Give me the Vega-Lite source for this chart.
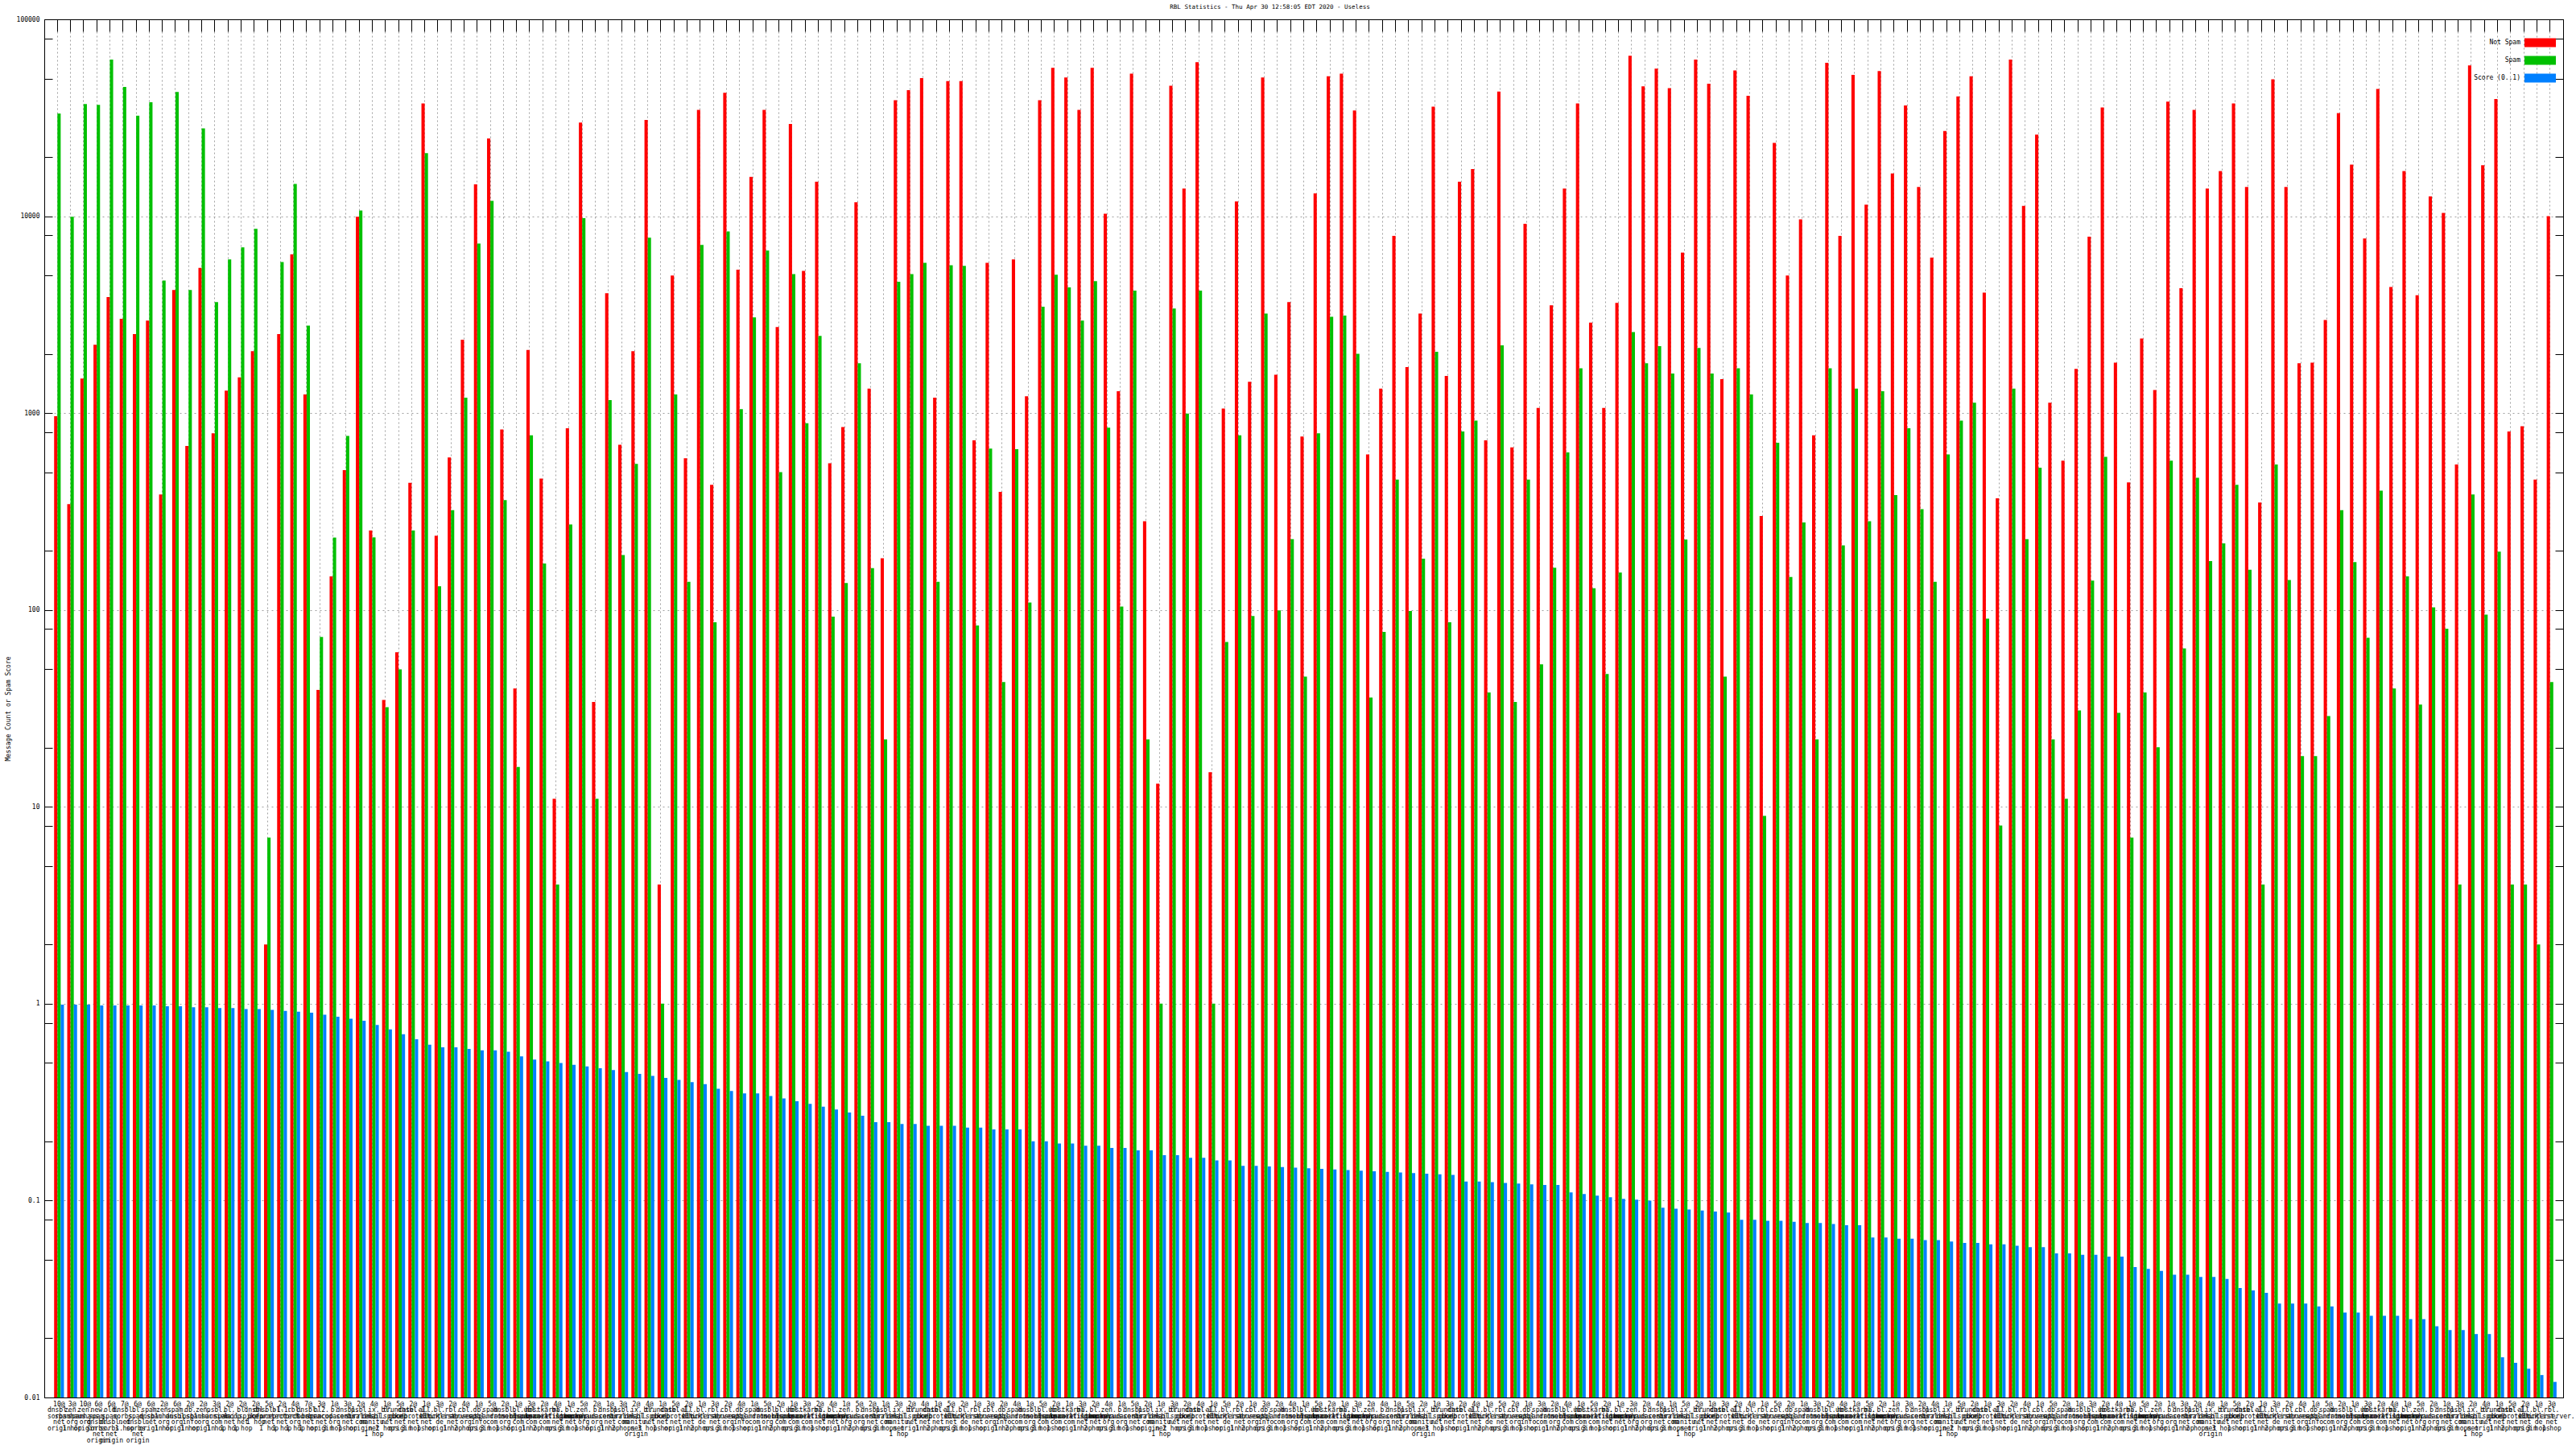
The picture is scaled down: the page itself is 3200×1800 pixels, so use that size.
{
"$schema":"https://vega.github.io/schema/vega-lite/v6.json",
"autosize":{"type":"none"},
"padding":{"left":55,"top":24,"right":16,"bottom":64},
"width":3129,"height":1712,
"background":"white",
"title":{"text":"RBL Statistics - Thu Apr 30 12:58:05 EDT 2020 - Useless","anchor":"middle","dx":-42,"offset":8,"font":"DejaVu Sans Mono","fontSize":7.5,"fontWeight":"normal","color":"black"},
"config":{"view":{"stroke":"black","strokeWidth":1},"axis":{"domainColor":"black","domainWidth":1,"tickColor":"black","tickWidth":1,"labelColor":"black","titleColor":"black"}},
"datasets":{
"labels":[
{"g":1,"label":"1|10@|dnsbl.|sorbs.|net|origin"},{"g":2,"label":"2|3@|zen.|spamhaus.|org|1 hop"},{"g":3,"label":"3|10@|zen.|spamhaus.|org|origin"},{"g":4,"label":"4|6@|new.|spam.|dnsbl.|sorbs.|net|origin"},{"g":5,"label":"5|6@|old.|spam.|dnsbl.|sorbs.|net|origin"},{"g":6,"label":"6|7@|dnsbl.|sorbs.|net|1 hop"},{"g":7,"label":"7|6@|bl.|spam.|dnsbl.|sorbs.|net|origin"},{"g":8,"label":"8|6@|spam.|dnsbl.|net|origin"},{"g":9,"label":"9|2@|zen.|spamhaus.|org|1 hop"},{"g":10,"label":"10|6@|spam.|dnsbl.|org|origin"},
{"g":11,"label":"11|2@|db.|ipsbl.|info|1 hop"},{"g":12,"label":"12|2@|zen.|spamhaus.|org|origin"},{"g":13,"label":"13|3@|psbl.|surriel.|com|1 hop"},{"g":14,"label":"14|2@|bl.|spamcop.|net|1 hop"},{"g":15,"label":"15|2@|bl.|mailspike.|net|1 hop"},{"g":16,"label":"16|2@|dnsbl.|info|1 hop"},{"g":17,"label":"17|5@|dnsbl-1.|uceprotect.|net|1 hop"},{"g":18,"label":"18|2@|bl-1.|uceprotect.|net|1 hop"},{"g":19,"label":"19|4@|rbl.|ordb.|org|1 hop"},{"g":20,"label":"20|7@|dnsbl.|sorbs.|net|1 hop"},
{"g":21,"label":"21|3@|bl2.|spamcop.|net|origin"},{"g":22,"label":"22|1@|b.|barracudacentral.|org|3 hops"},{"g":23,"label":"23|3@|dnsbl.|sorbs.|net|1 hop"},{"g":24,"label":"24|2@|psbl.|surriel.|com|origin"},{"g":25,"label":"25|4@|ix.|dnsbl.|manitu.|net|1 hop"},{"g":26,"label":"26|1@|bl.|mailspike.|net|2 hops"},{"g":27,"label":"27|5@|truncate.|gbudb.|net|origin"},{"g":28,"label":"28|2@|dnsbl-1.|uceprotect.|net|3 hops"},{"g":29,"label":"29|1@|all.|s5h.|net|1 hop"},{"g":30,"label":"30|3@|bl.|blocklist.|de|origin"},
{"g":31,"label":"31|2@|rbl.|interserver.|net|1 hop"},{"g":32,"label":"32|4@|cbl.|abuseat.|org|2 hops"},{"g":33,"label":"33|1@|db.|wpbl.|info|origin"},{"g":34,"label":"34|5@|spam.|spamrats.|com|3 hops"},{"g":35,"label":"35|2@|dnsbl.|dronebl.|org|1 hop"},{"g":36,"label":"36|1@|bl.|nordspam.|com|origin"},{"g":37,"label":"37|3@|ubl.|unsubscore.|com|1 hop"},{"g":38,"label":"38|2@|hostkarma.|junkemailfilter.|com|2 hops"},{"g":39,"label":"39|4@|bl.|spameatingmonkey.|net|origin"},{"g":40,"label":"40|1@|bl.|spamcop.|net|3 hops"},
{"g":41,"label":"41|5@|zen.|spamhaus.|org|1 hop"},{"g":42,"label":"42|2@|b.|barracudacentral.|org|origin"},{"g":43,"label":"43|1@|dnsbl.|sorbs.|net|1 hop"},{"g":44,"label":"44|3@|psbl.|surriel.|com|2 hops"},{"g":45,"label":"45|2@|ix.|dnsbl.|manitu.|net|origin"},{"g":46,"label":"46|4@|bl.|mailspike.|net|3 hops"},{"g":47,"label":"47|1@|truncate.|gbudb.|net|1 hop"},{"g":48,"label":"48|5@|dnsbl-1.|uceprotect.|net|origin"},{"g":49,"label":"49|2@|all.|s5h.|net|1 hop"},{"g":50,"label":"50|1@|bl.|blocklist.|de|2 hops"},
{"g":51,"label":"51|3@|rbl.|interserver.|net|origin"},{"g":52,"label":"52|2@|cbl.|abuseat.|org|3 hops"},{"g":53,"label":"53|4@|db.|wpbl.|info|1 hop"},{"g":54,"label":"54|1@|spam.|spamrats.|com|origin"},{"g":55,"label":"55|5@|dnsbl.|dronebl.|org|1 hop"},{"g":56,"label":"56|2@|bl.|nordspam.|com|2 hops"},{"g":57,"label":"57|1@|ubl.|unsubscore.|com|origin"},{"g":58,"label":"58|3@|hostkarma.|junkemailfilter.|com|3 hops"},{"g":59,"label":"59|2@|bl.|spameatingmonkey.|net|1 hop"},{"g":60,"label":"60|4@|bl.|spamcop.|net|origin"},
{"g":61,"label":"61|1@|zen.|spamhaus.|org|1 hop"},{"g":62,"label":"62|5@|b.|barracudacentral.|org|2 hops"},{"g":63,"label":"63|2@|dnsbl.|sorbs.|net|origin"},{"g":64,"label":"64|1@|psbl.|surriel.|com|3 hops"},{"g":65,"label":"65|3@|ix.|dnsbl.|manitu.|net|1 hop"},{"g":66,"label":"66|2@|bl.|mailspike.|net|origin"},{"g":67,"label":"67|4@|truncate.|gbudb.|net|1 hop"},{"g":68,"label":"68|1@|dnsbl-1.|uceprotect.|net|2 hops"},{"g":69,"label":"69|5@|all.|s5h.|net|origin"},{"g":70,"label":"70|2@|bl.|blocklist.|de|3 hops"},
{"g":71,"label":"71|1@|rbl.|interserver.|net|1 hop"},{"g":72,"label":"72|3@|cbl.|abuseat.|org|origin"},{"g":73,"label":"73|2@|db.|wpbl.|info|1 hop"},{"g":74,"label":"74|4@|spam.|spamrats.|com|2 hops"},{"g":75,"label":"75|1@|dnsbl.|dronebl.|org|origin"},{"g":76,"label":"76|5@|bl.|nordspam.|com|3 hops"},{"g":77,"label":"77|2@|ubl.|unsubscore.|com|1 hop"},{"g":78,"label":"78|1@|hostkarma.|junkemailfilter.|com|origin"},{"g":79,"label":"79|3@|bl.|spameatingmonkey.|net|1 hop"},{"g":80,"label":"80|2@|bl.|spamcop.|net|2 hops"},
{"g":81,"label":"81|4@|zen.|spamhaus.|org|origin"},{"g":82,"label":"82|1@|b.|barracudacentral.|org|3 hops"},{"g":83,"label":"83|5@|dnsbl.|sorbs.|net|1 hop"},{"g":84,"label":"84|2@|psbl.|surriel.|com|origin"},{"g":85,"label":"85|1@|ix.|dnsbl.|manitu.|net|1 hop"},{"g":86,"label":"86|3@|bl.|mailspike.|net|2 hops"},{"g":87,"label":"87|2@|truncate.|gbudb.|net|origin"},{"g":88,"label":"88|4@|dnsbl-1.|uceprotect.|net|3 hops"},{"g":89,"label":"89|1@|all.|s5h.|net|1 hop"},{"g":90,"label":"90|5@|bl.|blocklist.|de|origin"},
{"g":91,"label":"91|2@|rbl.|interserver.|net|1 hop"},{"g":92,"label":"92|1@|cbl.|abuseat.|org|2 hops"},{"g":93,"label":"93|3@|db.|wpbl.|info|origin"},{"g":94,"label":"94|2@|spam.|spamrats.|com|3 hops"},{"g":95,"label":"95|4@|dnsbl.|dronebl.|org|1 hop"},{"g":96,"label":"96|1@|bl.|nordspam.|com|origin"},{"g":97,"label":"97|5@|ubl.|unsubscore.|com|1 hop"},{"g":98,"label":"98|2@|hostkarma.|junkemailfilter.|com|2 hops"},{"g":99,"label":"99|1@|bl.|spameatingmonkey.|net|origin"},{"g":100,"label":"100|3@|bl.|spamcop.|net|3 hops"},
{"g":101,"label":"101|2@|zen.|spamhaus.|org|1 hop"},{"g":102,"label":"102|4@|b.|barracudacentral.|org|origin"},{"g":103,"label":"103|1@|dnsbl.|sorbs.|net|1 hop"},{"g":104,"label":"104|5@|psbl.|surriel.|com|2 hops"},{"g":105,"label":"105|2@|ix.|dnsbl.|manitu.|net|origin"},{"g":106,"label":"106|1@|bl.|mailspike.|net|3 hops"},{"g":107,"label":"107|3@|truncate.|gbudb.|net|1 hop"},{"g":108,"label":"108|2@|dnsbl-1.|uceprotect.|net|origin"},{"g":109,"label":"109|4@|all.|s5h.|net|1 hop"},{"g":110,"label":"110|1@|bl.|blocklist.|de|2 hops"},
{"g":111,"label":"111|5@|rbl.|interserver.|net|origin"},{"g":112,"label":"112|2@|cbl.|abuseat.|org|3 hops"},{"g":113,"label":"113|1@|db.|wpbl.|info|1 hop"},{"g":114,"label":"114|3@|spam.|spamrats.|com|origin"},{"g":115,"label":"115|2@|dnsbl.|dronebl.|org|1 hop"},{"g":116,"label":"116|4@|bl.|nordspam.|com|2 hops"},{"g":117,"label":"117|1@|ubl.|unsubscore.|com|origin"},{"g":118,"label":"118|5@|hostkarma.|junkemailfilter.|com|3 hops"},{"g":119,"label":"119|2@|bl.|spameatingmonkey.|net|1 hop"},{"g":120,"label":"120|1@|bl.|spamcop.|net|origin"},
{"g":121,"label":"121|3@|zen.|spamhaus.|org|1 hop"},{"g":122,"label":"122|2@|b.|barracudacentral.|org|2 hops"},{"g":123,"label":"123|4@|dnsbl.|sorbs.|net|origin"},{"g":124,"label":"124|1@|psbl.|surriel.|com|3 hops"},{"g":125,"label":"125|5@|ix.|dnsbl.|manitu.|net|1 hop"},{"g":126,"label":"126|2@|bl.|mailspike.|net|origin"},{"g":127,"label":"127|1@|truncate.|gbudb.|net|1 hop"},{"g":128,"label":"128|3@|dnsbl-1.|uceprotect.|net|2 hops"},{"g":129,"label":"129|2@|all.|s5h.|net|origin"},{"g":130,"label":"130|4@|bl.|blocklist.|de|3 hops"},
{"g":131,"label":"131|1@|rbl.|interserver.|net|1 hop"},{"g":132,"label":"132|5@|cbl.|abuseat.|org|origin"},{"g":133,"label":"133|2@|db.|wpbl.|info|1 hop"},{"g":134,"label":"134|1@|spam.|spamrats.|com|2 hops"},{"g":135,"label":"135|3@|dnsbl.|dronebl.|org|origin"},{"g":136,"label":"136|2@|bl.|nordspam.|com|3 hops"},{"g":137,"label":"137|4@|ubl.|unsubscore.|com|1 hop"},{"g":138,"label":"138|1@|hostkarma.|junkemailfilter.|com|origin"},{"g":139,"label":"139|5@|bl.|spameatingmonkey.|net|1 hop"},{"g":140,"label":"140|2@|bl.|spamcop.|net|2 hops"},
{"g":141,"label":"141|1@|zen.|spamhaus.|org|origin"},{"g":142,"label":"142|3@|b.|barracudacentral.|org|3 hops"},{"g":143,"label":"143|2@|dnsbl.|sorbs.|net|1 hop"},{"g":144,"label":"144|4@|psbl.|surriel.|com|origin"},{"g":145,"label":"145|1@|ix.|dnsbl.|manitu.|net|1 hop"},{"g":146,"label":"146|5@|bl.|mailspike.|net|2 hops"},{"g":147,"label":"147|2@|truncate.|gbudb.|net|origin"},{"g":148,"label":"148|1@|dnsbl-1.|uceprotect.|net|3 hops"},{"g":149,"label":"149|3@|all.|s5h.|net|1 hop"},{"g":150,"label":"150|2@|bl.|blocklist.|de|origin"},
{"g":151,"label":"151|4@|rbl.|interserver.|net|1 hop"},{"g":152,"label":"152|1@|cbl.|abuseat.|org|2 hops"},{"g":153,"label":"153|5@|db.|wpbl.|info|origin"},{"g":154,"label":"154|2@|spam.|spamrats.|com|3 hops"},{"g":155,"label":"155|1@|dnsbl.|dronebl.|org|1 hop"},{"g":156,"label":"156|3@|bl.|nordspam.|com|origin"},{"g":157,"label":"157|2@|ubl.|unsubscore.|com|1 hop"},{"g":158,"label":"158|4@|hostkarma.|junkemailfilter.|com|2 hops"},{"g":159,"label":"159|1@|bl.|spameatingmonkey.|net|origin"},{"g":160,"label":"160|5@|bl.|spamcop.|net|3 hops"},
{"g":161,"label":"161|2@|zen.|spamhaus.|org|1 hop"},{"g":162,"label":"162|1@|b.|barracudacentral.|org|origin"},{"g":163,"label":"163|3@|dnsbl.|sorbs.|net|1 hop"},{"g":164,"label":"164|2@|psbl.|surriel.|com|2 hops"},{"g":165,"label":"165|4@|ix.|dnsbl.|manitu.|net|origin"},{"g":166,"label":"166|1@|bl.|mailspike.|net|3 hops"},{"g":167,"label":"167|5@|truncate.|gbudb.|net|1 hop"},{"g":168,"label":"168|2@|dnsbl-1.|uceprotect.|net|origin"},{"g":169,"label":"169|1@|all.|s5h.|net|1 hop"},{"g":170,"label":"170|3@|bl.|blocklist.|de|2 hops"},
{"g":171,"label":"171|2@|rbl.|interserver.|net|origin"},{"g":172,"label":"172|4@|cbl.|abuseat.|org|3 hops"},{"g":173,"label":"173|1@|db.|wpbl.|info|1 hop"},{"g":174,"label":"174|5@|spam.|spamrats.|com|origin"},{"g":175,"label":"175|2@|dnsbl.|dronebl.|org|1 hop"},{"g":176,"label":"176|1@|bl.|nordspam.|com|2 hops"},{"g":177,"label":"177|3@|ubl.|unsubscore.|com|origin"},{"g":178,"label":"178|2@|hostkarma.|junkemailfilter.|com|3 hops"},{"g":179,"label":"179|4@|bl.|spameatingmonkey.|net|1 hop"},{"g":180,"label":"180|1@|bl.|spamcop.|net|origin"},
{"g":181,"label":"181|5@|zen.|spamhaus.|org|1 hop"},{"g":182,"label":"182|2@|b.|barracudacentral.|org|2 hops"},{"g":183,"label":"183|1@|dnsbl.|sorbs.|net|origin"},{"g":184,"label":"184|3@|psbl.|surriel.|com|3 hops"},{"g":185,"label":"185|2@|ix.|dnsbl.|manitu.|net|1 hop"},{"g":186,"label":"186|4@|bl.|mailspike.|net|origin"},{"g":187,"label":"187|1@|truncate.|gbudb.|net|1 hop"},{"g":188,"label":"188|5@|dnsbl-1.|uceprotect.|net|2 hops"},{"g":189,"label":"189|2@|all.|s5h.|net|origin"},{"g":190,"label":"190|1@|bl.|blocklist.|de|3 hops"},
{"g":191,"label":"191|3@|rbl.|interserver.|net|1 hop"}
],
"bars":[
{"g":1,"s":"n","v":965},{"g":1,"s":"p","v":33200},{"g":1,"s":"c","v":0.99},
{"g":2,"s":"n","v":345},{"g":2,"s":"p","v":9930},{"g":2,"s":"c","v":0.99},
{"g":3,"s":"n","v":1497},{"g":3,"s":"p","v":37100},{"g":3,"s":"c","v":0.99},
{"g":4,"s":"n","v":2222},{"g":4,"s":"p","v":36800},{"g":4,"s":"c","v":0.98},
{"g":5,"s":"n","v":3884},{"g":5,"s":"p","v":62400},{"g":5,"s":"c","v":0.98},
{"g":6,"s":"n","v":3015},{"g":6,"s":"p","v":45300},{"g":6,"s":"c","v":0.98},
{"g":7,"s":"n","v":2522},{"g":7,"s":"p","v":32400},{"g":7,"s":"c","v":0.98},
{"g":8,"s":"n","v":2951},{"g":8,"s":"p","v":37900},{"g":8,"s":"c","v":0.98},
{"g":9,"s":"n","v":386},{"g":9,"s":"p","v":4715},{"g":9,"s":"c","v":0.97},
{"g":10,"s":"n","v":4217},{"g":10,"s":"p","v":42800},{"g":10,"s":"c","v":0.97},
{"g":11,"s":"n","v":680},{"g":11,"s":"p","v":4217},{"g":11,"s":"c","v":0.96},
{"g":12,"s":"n","v":5470},{"g":12,"s":"p","v":27900},{"g":12,"s":"c","v":0.96},
{"g":13,"s":"n","v":789},{"g":13,"s":"p","v":3660},{"g":13,"s":"c","v":0.95},
{"g":14,"s":"n","v":1300},{"g":14,"s":"p","v":6030},{"g":14,"s":"c","v":0.95},
{"g":15,"s":"n","v":1520},{"g":15,"s":"p","v":6950},{"g":15,"s":"c","v":0.94},
{"g":16,"s":"n","v":2063},{"g":16,"s":"p","v":8620},{"g":16,"s":"c","v":0.94},
{"g":17,"s":"n","v":2.0},{"g":17,"s":"p","v":6.98},{"g":17,"s":"c","v":0.93},
{"g":18,"s":"n","v":2522},{"g":18,"s":"p","v":5850},{"g":18,"s":"c","v":0.92},
{"g":19,"s":"n","v":6400},{"g":19,"s":"p","v":14600},{"g":19,"s":"c","v":0.91},
{"g":20,"s":"n","v":1244},{"g":20,"s":"p","v":2780},{"g":20,"s":"c","v":0.90},
{"g":21,"s":"n","v":39.3},{"g":21,"s":"p","v":72.9},{"g":21,"s":"c","v":0.88},
{"g":22,"s":"n","v":148},{"g":22,"s":"p","v":233},{"g":22,"s":"c","v":0.86},
{"g":23,"s":"n","v":513},{"g":23,"s":"p","v":766},{"g":23,"s":"c","v":0.84},
{"g":24,"s":"n","v":9930},{"g":24,"s":"p","v":10700},{"g":24,"s":"c","v":0.82},
{"g":25,"s":"n","v":253},{"g":25,"s":"p","v":234},{"g":25,"s":"c","v":0.78},
{"g":26,"s":"n","v":34.9},{"g":26,"s":"p","v":32.1},{"g":26,"s":"c","v":0.74},
{"g":27,"s":"n","v":61},{"g":27,"s":"p","v":49.9},{"g":27,"s":"c","v":0.70},
{"g":28,"s":"n","v":442},{"g":28,"s":"p","v":253},{"g":28,"s":"c","v":0.66},
{"g":29,"s":"n","v":37400},{"g":29,"s":"p","v":20900},{"g":29,"s":"c","v":0.62},
{"g":30,"s":"n","v":238},{"g":30,"s":"p","v":132},{"g":30,"s":"c","v":0.60},
{"g":31,"s":"n","v":595},{"g":31,"s":"p","v":321},{"g":31,"s":"c","v":0.60},
{"g":32,"s":"n","v":2360},{"g":32,"s":"p","v":1198},{"g":32,"s":"c","v":0.59},
{"g":33,"s":"n","v":14500},{"g":33,"s":"p","v":7260},{"g":33,"s":"c","v":0.58},
{"g":34,"s":"n","v":24800},{"g":34,"s":"p","v":11960},{"g":34,"s":"c","v":0.58},
{"g":35,"s":"n","v":826},{"g":35,"s":"p","v":361},{"g":35,"s":"c","v":0.57},
{"g":36,"s":"n","v":39.9},{"g":36,"s":"p","v":15.96},{"g":36,"s":"c","v":0.54},
{"g":37,"s":"n","v":2094},{"g":37,"s":"p","v":772},{"g":37,"s":"c","v":0.52},
{"g":38,"s":"n","v":465},{"g":38,"s":"p","v":172},{"g":38,"s":"c","v":0.51},
{"g":39,"s":"n","v":11.0},{"g":39,"s":"p","v":4.03},{"g":39,"s":"c","v":0.50},
{"g":40,"s":"n","v":837},{"g":40,"s":"p","v":272},{"g":40,"s":"c","v":0.49},
{"g":41,"s":"n","v":29900},{"g":41,"s":"p","v":9780},{"g":41,"s":"c","v":0.48},
{"g":42,"s":"n","v":34.1},{"g":42,"s":"p","v":11.0},{"g":42,"s":"c","v":0.47},
{"g":43,"s":"n","v":4060},{"g":43,"s":"p","v":1163},{"g":43,"s":"c","v":0.46},
{"g":44,"s":"n","v":690},{"g":44,"s":"p","v":190},{"g":44,"s":"c","v":0.45},
{"g":45,"s":"n","v":2063},{"g":45,"s":"p","v":552},{"g":45,"s":"c","v":0.44},
{"g":46,"s":"n","v":30800},{"g":46,"s":"p","v":7770},{"g":46,"s":"c","v":0.43},
{"g":47,"s":"n","v":4.03},{"g":47,"s":"p","v":1.0},{"g":47,"s":"c","v":0.42},
{"g":48,"s":"n","v":5000},{"g":48,"s":"p","v":1244},{"g":48,"s":"c","v":0.41},
{"g":49,"s":"n","v":590},{"g":49,"s":"p","v":139},{"g":49,"s":"c","v":0.40},
{"g":50,"s":"n","v":34700},{"g":50,"s":"p","v":7150},{"g":50,"s":"c","v":0.39},
{"g":51,"s":"n","v":432},{"g":51,"s":"p","v":86.5},{"g":51,"s":"c","v":0.37},
{"g":52,"s":"n","v":42400},{"g":52,"s":"p","v":8360},{"g":52,"s":"c","v":0.36},
{"g":53,"s":"n","v":5350},{"g":53,"s":"p","v":1047},{"g":53,"s":"c","v":0.35},
{"g":54,"s":"n","v":15850},{"g":54,"s":"p","v":3060},{"g":54,"s":"c","v":0.35},
{"g":55,"s":"n","v":34700},{"g":55,"s":"p","v":6690},{"g":55,"s":"c","v":0.34},
{"g":56,"s":"n","v":2738},{"g":56,"s":"p","v":501},{"g":56,"s":"c","v":0.33},
{"g":57,"s":"n","v":29400},{"g":57,"s":"p","v":5080},{"g":57,"s":"c","v":0.32},
{"g":58,"s":"n","v":5270},{"g":58,"s":"p","v":889},{"g":58,"s":"c","v":0.31},
{"g":59,"s":"n","v":14950},{"g":59,"s":"p","v":2466},{"g":59,"s":"c","v":0.30},
{"g":60,"s":"n","v":556},{"g":60,"s":"p","v":92.5},{"g":60,"s":"c","v":0.29},
{"g":61,"s":"n","v":850},{"g":61,"s":"p","v":137},{"g":61,"s":"c","v":0.28},
{"g":62,"s":"n","v":11780},{"g":62,"s":"p","v":1791},{"g":62,"s":"c","v":0.27},
{"g":63,"s":"n","v":1330},{"g":63,"s":"p","v":163},{"g":63,"s":"c","v":0.25},
{"g":64,"s":"n","v":183},{"g":64,"s":"p","v":22.0},{"g":64,"s":"c","v":0.25},
{"g":65,"s":"n","v":38800},{"g":65,"s":"p","v":4645},{"g":65,"s":"c","v":0.245},
{"g":66,"s":"n","v":43700},{"g":66,"s":"p","v":5080},{"g":66,"s":"c","v":0.245},
{"g":67,"s":"n","v":50300},{"g":67,"s":"p","v":5800},{"g":67,"s":"c","v":0.24},
{"g":68,"s":"n","v":1198},{"g":68,"s":"p","v":139},{"g":68,"s":"c","v":0.24},
{"g":69,"s":"n","v":48500},{"g":69,"s":"p","v":5640},{"g":69,"s":"c","v":0.24},
{"g":70,"s":"n","v":48500},{"g":70,"s":"p","v":5600},{"g":70,"s":"c","v":0.235},
{"g":71,"s":"n","v":727},{"g":71,"s":"p","v":83.3},{"g":71,"s":"c","v":0.235},
{"g":72,"s":"n","v":5800},{"g":72,"s":"p","v":660},{"g":72,"s":"c","v":0.23},
{"g":73,"s":"n","v":398},{"g":73,"s":"p","v":43},{"g":73,"s":"c","v":0.23},
{"g":74,"s":"n","v":6030},{"g":74,"s":"p","v":655},{"g":74,"s":"c","v":0.23},
{"g":75,"s":"n","v":1216},{"g":75,"s":"p","v":109},{"g":75,"s":"c","v":0.2},
{"g":76,"s":"n","v":38800},{"g":76,"s":"p","v":3473},{"g":76,"s":"c","v":0.2},
{"g":77,"s":"n","v":56700},{"g":77,"s":"p","v":5040},{"g":77,"s":"c","v":0.195},
{"g":78,"s":"n","v":50700},{"g":78,"s":"p","v":4345},{"g":78,"s":"c","v":0.195},
{"g":79,"s":"n","v":34700},{"g":79,"s":"p","v":2950},{"g":79,"s":"c","v":0.19},
{"g":80,"s":"n","v":56700},{"g":80,"s":"p","v":4680},{"g":80,"s":"c","v":0.19},
{"g":81,"s":"n","v":10300},{"g":81,"s":"p","v":844},{"g":81,"s":"c","v":0.185},
{"g":82,"s":"n","v":1290},{"g":82,"s":"p","v":104},{"g":82,"s":"c","v":0.185},
{"g":83,"s":"n","v":53000},{"g":83,"s":"p","v":4185},{"g":83,"s":"c","v":0.18},
{"g":84,"s":"n","v":282},{"g":84,"s":"p","v":22},{"g":84,"s":"c","v":0.18},
{"g":85,"s":"n","v":13.1},{"g":85,"s":"p","v":1.0},{"g":85,"s":"c","v":0.17},
{"g":86,"s":"n","v":46000},{"g":86,"s":"p","v":3400},{"g":86,"s":"c","v":0.17},
{"g":87,"s":"n","v":13800},{"g":87,"s":"p","v":995},{"g":87,"s":"c","v":0.165},
{"g":88,"s":"n","v":60600},{"g":88,"s":"p","v":4185},{"g":88,"s":"c","v":0.165},
{"g":89,"s":"n","v":15.0},{"g":89,"s":"p","v":1.0},{"g":89,"s":"c","v":0.16},
{"g":90,"s":"n","v":1055},{"g":90,"s":"p","v":68.7},{"g":90,"s":"c","v":0.16},
{"g":91,"s":"n","v":11870},{"g":91,"s":"p","v":772},{"g":91,"s":"c","v":0.15},
{"g":92,"s":"n","v":1443},{"g":92,"s":"p","v":93.2},{"g":92,"s":"c","v":0.15},
{"g":93,"s":"n","v":50700},{"g":93,"s":"p","v":3200},{"g":93,"s":"c","v":0.149},
{"g":94,"s":"n","v":1566},{"g":94,"s":"p","v":99.6},{"g":94,"s":"c","v":0.148},
{"g":95,"s":"n","v":3660},{"g":95,"s":"p","v":229},{"g":95,"s":"c","v":0.147},
{"g":96,"s":"n","v":760},{"g":96,"s":"p","v":45.9},{"g":96,"s":"c","v":0.146},
{"g":97,"s":"n","v":13070},{"g":97,"s":"p","v":789},{"g":97,"s":"c","v":0.145},
{"g":98,"s":"n","v":51400},{"g":98,"s":"p","v":3083},{"g":98,"s":"c","v":0.144},
{"g":99,"s":"n","v":53000},{"g":99,"s":"p","v":3131},{"g":99,"s":"c","v":0.143},
{"g":100,"s":"n","v":34400},{"g":100,"s":"p","v":2002},{"g":100,"s":"c","v":0.142},
{"g":101,"s":"n","v":617},{"g":101,"s":"p","v":35.9},{"g":101,"s":"c","v":0.141},
{"g":102,"s":"n","v":1330},{"g":102,"s":"p","v":77.3},{"g":102,"s":"c","v":0.14},
{"g":103,"s":"n","v":7940},{"g":103,"s":"p","v":459},{"g":103,"s":"c","v":0.139},
{"g":104,"s":"n","v":1713},{"g":104,"s":"p","v":98.9},{"g":104,"s":"c","v":0.138},
{"g":105,"s":"n","v":3201},{"g":105,"s":"p","v":182},{"g":105,"s":"c","v":0.137},
{"g":106,"s":"n","v":36000},{"g":106,"s":"p","v":2048},{"g":106,"s":"c","v":0.136},
{"g":107,"s":"n","v":1543},{"g":107,"s":"p","v":86.5},{"g":107,"s":"c","v":0.135},
{"g":108,"s":"n","v":14950},{"g":108,"s":"p","v":807},{"g":108,"s":"c","v":0.125},
{"g":109,"s":"n","v":17350},{"g":109,"s":"p","v":916},{"g":109,"s":"c","v":0.125},
{"g":110,"s":"n","v":727},{"g":110,"s":"p","v":38.1},{"g":110,"s":"c","v":0.124},
{"g":111,"s":"n","v":43000},{"g":111,"s":"p","v":2206},{"g":111,"s":"c","v":0.123},
{"g":112,"s":"n","v":670},{"g":112,"s":"p","v":34.1},{"g":112,"s":"c","v":0.122},
{"g":113,"s":"n","v":9150},{"g":113,"s":"p","v":459},{"g":113,"s":"c","v":0.121},
{"g":114,"s":"n","v":1063},{"g":114,"s":"p","v":52.9},{"g":114,"s":"c","v":0.12},
{"g":115,"s":"n","v":3526},{"g":115,"s":"p","v":164},{"g":115,"s":"c","v":0.12},
{"g":116,"s":"n","v":13800},{"g":116,"s":"p","v":631},{"g":116,"s":"c","v":0.11},
{"g":117,"s":"n","v":37400},{"g":117,"s":"p","v":1688},{"g":117,"s":"c","v":0.108},
{"g":118,"s":"n","v":2884},{"g":118,"s":"p","v":129},{"g":118,"s":"c","v":0.106},
{"g":119,"s":"n","v":1063},{"g":119,"s":"p","v":47.3},{"g":119,"s":"c","v":0.104},
{"g":120,"s":"n","v":3630},{"g":120,"s":"p","v":155},{"g":120,"s":"c","v":0.102},
{"g":121,"s":"n","v":65300},{"g":121,"s":"p","v":2580},{"g":121,"s":"c","v":0.101},
{"g":122,"s":"n","v":45700},{"g":122,"s":"p","v":1791},{"g":122,"s":"c","v":0.1},
{"g":123,"s":"n","v":56200},{"g":123,"s":"p","v":2190},{"g":123,"s":"c","v":0.092},
{"g":124,"s":"n","v":44700},{"g":124,"s":"p","v":1590},{"g":124,"s":"c","v":0.091},
{"g":125,"s":"n","v":6540},{"g":125,"s":"p","v":228},{"g":125,"s":"c","v":0.09},
{"g":126,"s":"n","v":62450},{"g":126,"s":"p","v":2140},{"g":126,"s":"c","v":0.089},
{"g":127,"s":"n","v":47050},{"g":127,"s":"p","v":1590},{"g":127,"s":"c","v":0.088},
{"g":128,"s":"n","v":1487},{"g":128,"s":"p","v":45.9},{"g":128,"s":"c","v":0.087},
{"g":129,"s":"n","v":55000},{"g":129,"s":"p","v":1688},{"g":129,"s":"c","v":0.08},
{"g":130,"s":"n","v":40850},{"g":130,"s":"p","v":1244},{"g":130,"s":"c","v":0.08},
{"g":131,"s":"n","v":300},{"g":131,"s":"p","v":9.0},{"g":131,"s":"c","v":0.079},
{"g":132,"s":"n","v":23550},{"g":132,"s":"p","v":706},{"g":132,"s":"c","v":0.079},
{"g":133,"s":"n","v":5000},{"g":133,"s":"p","v":147},{"g":133,"s":"c","v":0.078},
{"g":134,"s":"n","v":9640},{"g":134,"s":"p","v":278},{"g":134,"s":"c","v":0.077},
{"g":135,"s":"n","v":772},{"g":135,"s":"p","v":22},{"g":135,"s":"c","v":0.077},
{"g":136,"s":"n","v":60150},{"g":136,"s":"p","v":1688},{"g":136,"s":"c","v":0.076},
{"g":137,"s":"n","v":7940},{"g":137,"s":"p","v":213},{"g":137,"s":"c","v":0.075},
{"g":138,"s":"n","v":52200},{"g":138,"s":"p","v":1330},{"g":138,"s":"c","v":0.075},
{"g":139,"s":"n","v":11430},{"g":139,"s":"p","v":282},{"g":139,"s":"c","v":0.065},
{"g":140,"s":"n","v":54600},{"g":140,"s":"p","v":1290},{"g":140,"s":"c","v":0.065},
{"g":141,"s":"n","v":16470},{"g":141,"s":"p","v":383},{"g":141,"s":"c","v":0.064},
{"g":142,"s":"n","v":36520},{"g":142,"s":"p","v":837},{"g":142,"s":"c","v":0.064},
{"g":143,"s":"n","v":14090},{"g":143,"s":"p","v":325},{"g":143,"s":"c","v":0.063},
{"g":144,"s":"n","v":6166},{"g":144,"s":"p","v":139},{"g":144,"s":"c","v":0.063},
{"g":145,"s":"n","v":27100},{"g":145,"s":"p","v":617},{"g":145,"s":"c","v":0.062},
{"g":146,"s":"n","v":40550},{"g":146,"s":"p","v":916},{"g":146,"s":"c","v":0.061},
{"g":147,"s":"n","v":51400},{"g":147,"s":"p","v":1129},{"g":147,"s":"c","v":0.061},
{"g":148,"s":"n","v":4090},{"g":148,"s":"p","v":90.4},{"g":148,"s":"c","v":0.06},
{"g":149,"s":"n","v":369},{"g":149,"s":"p","v":8.04},{"g":149,"s":"c","v":0.06},
{"g":150,"s":"n","v":62450},{"g":150,"s":"p","v":1330},{"g":150,"s":"c","v":0.059},
{"g":151,"s":"n","v":11270},{"g":151,"s":"p","v":229},{"g":151,"s":"c","v":0.058},
{"g":152,"s":"n","v":25940},{"g":152,"s":"p","v":528},{"g":152,"s":"c","v":0.058},
{"g":153,"s":"n","v":1129},{"g":153,"s":"p","v":22},{"g":153,"s":"c","v":0.054},
{"g":154,"s":"n","v":573},{"g":154,"s":"p","v":11.0},{"g":154,"s":"c","v":0.054},
{"g":155,"s":"n","v":1675},{"g":155,"s":"p","v":30.9},{"g":155,"s":"c","v":0.053},
{"g":156,"s":"n","v":7880},{"g":156,"s":"p","v":141},{"g":156,"s":"c","v":0.053},
{"g":157,"s":"n","v":35700},{"g":157,"s":"p","v":599},{"g":157,"s":"c","v":0.052},
{"g":158,"s":"n","v":1804},{"g":158,"s":"p","v":30.0},{"g":158,"s":"c","v":0.052},
{"g":159,"s":"n","v":445},{"g":159,"s":"p","v":6.98},{"g":159,"s":"c","v":0.046},
{"g":160,"s":"n","v":2394},{"g":160,"s":"p","v":38.1},{"g":160,"s":"c","v":0.045},
{"g":161,"s":"n","v":1310},{"g":161,"s":"p","v":20.1},{"g":161,"s":"c","v":0.044},
{"g":162,"s":"n","v":38200},{"g":162,"s":"p","v":573},{"g":162,"s":"c","v":0.042},
{"g":163,"s":"n","v":4312},{"g":163,"s":"p","v":63.7},{"g":163,"s":"c","v":0.042},
{"g":164,"s":"n","v":34700},{"g":164,"s":"p","v":469},{"g":164,"s":"c","v":0.041},
{"g":165,"s":"n","v":13800},{"g":165,"s":"p","v":177},{"g":165,"s":"c","v":0.041},
{"g":166,"s":"n","v":16970},{"g":166,"s":"p","v":218},{"g":166,"s":"c","v":0.04},
{"g":167,"s":"n","v":37400},{"g":167,"s":"p","v":432},{"g":167,"s":"c","v":0.036},
{"g":168,"s":"n","v":14090},{"g":168,"s":"p","v":160},{"g":168,"s":"c","v":0.035},
{"g":169,"s":"n","v":351},{"g":169,"s":"p","v":4.03},{"g":169,"s":"c","v":0.034},
{"g":170,"s":"n","v":49550},{"g":170,"s":"p","v":548},{"g":170,"s":"c","v":0.03},
{"g":171,"s":"n","v":14090},{"g":171,"s":"p","v":142},{"g":171,"s":"c","v":0.03},
{"g":172,"s":"n","v":1791},{"g":172,"s":"p","v":18.1},{"g":172,"s":"c","v":0.03},
{"g":173,"s":"n","v":1804},{"g":173,"s":"p","v":18.1},{"g":173,"s":"c","v":0.029},
{"g":174,"s":"n","v":2970},{"g":174,"s":"p","v":28.9},{"g":174,"s":"c","v":0.029},
{"g":175,"s":"n","v":33400},{"g":175,"s":"p","v":321},{"g":175,"s":"c","v":0.027},
{"g":176,"s":"n","v":18270},{"g":176,"s":"p","v":175},{"g":176,"s":"c","v":0.027},
{"g":177,"s":"n","v":7700},{"g":177,"s":"p","v":72.3},{"g":177,"s":"c","v":0.026},
{"g":178,"s":"n","v":44340},{"g":178,"s":"p","v":404},{"g":178,"s":"c","v":0.026},
{"g":179,"s":"n","v":4375},{"g":179,"s":"p","v":39.9},{"g":179,"s":"c","v":0.026},
{"g":180,"s":"n","v":16970},{"g":180,"s":"p","v":148},{"g":180,"s":"c","v":0.025},
{"g":181,"s":"n","v":3972},{"g":181,"s":"p","v":33.1},{"g":181,"s":"c","v":0.025},
{"g":182,"s":"n","v":12590},{"g":182,"s":"p","v":103},{"g":182,"s":"c","v":0.023},
{"g":183,"s":"n","v":10380},{"g":183,"s":"p","v":80.3},{"g":183,"s":"c","v":0.022},
{"g":184,"s":"n","v":548},{"g":184,"s":"p","v":4.03},{"g":184,"s":"c","v":0.022},
{"g":185,"s":"n","v":58380},{"g":185,"s":"p","v":386},{"g":185,"s":"c","v":0.021},
{"g":186,"s":"n","v":18140},{"g":186,"s":"p","v":94.6},{"g":186,"s":"c","v":0.021},
{"g":187,"s":"n","v":39360},{"g":187,"s":"p","v":198},{"g":187,"s":"c","v":0.016},
{"g":188,"s":"n","v":807},{"g":188,"s":"p","v":4.03},{"g":188,"s":"c","v":0.015},
{"g":189,"s":"n","v":857},{"g":189,"s":"p","v":4.03},{"g":189,"s":"c","v":0.014},
{"g":190,"s":"n","v":459},{"g":190,"s":"p","v":2.0},{"g":190,"s":"c","v":0.013},
{"g":191,"s":"n","v":10000},{"g":191,"s":"p","v":43},{"g":191,"s":"c","v":0.012}
]},
"data":{"name":"bars"},
"transform":[{"lookup":"g","from":{"data":{"name":"labels"},"key":"g","fields":["label"]}}],
"layer":[
{"mark":{"type":"bar","opacity":1},
 "encoding":{
  "x":{"field":"label","type":"nominal","sort":null,
   "scale":{"paddingInner":0.25,"paddingOuter":0.625,"align":0.6},
   "axis":{"orient":"bottom","title":null,"labelExpr":"slice(split(datum.label,'|'),1)","labelFont":"DejaVu Sans Mono","labelFontSize":8,"labelLineHeight":7.5,"labelAngle":0,"labelOverlap":false,"labelBound":false,"labelFlush":false,"labelPadding":4,"labelBaseline":"top","ticks":false,"grid":true,"gridColor":"#a0a0a0","gridDash":[2,3],"gridWidth":1,"bandPosition":0.3333,"labelLimit":0}},
  "xOffset":{"field":"s","type":"nominal","sort":["n","p","c"],"scale":{"paddingInner":0,"paddingOuter":0}},
  "y":{"field":"v","type":"quantitative","stack":null,
   "scale":{"type":"log","domain":[0.01,100000],"nice":false},
   "axis":{"orient":"left","title":"Message Count or Spam Score","titleFont":"DejaVu Sans Mono","titleFontSize":8,"titleFontWeight":"normal","titlePadding":6,
    "values":[0.01,0.02,0.05,0.08,0.1,0.2,0.5,0.8,1,2,5,8,10,20,50,80,100,200,500,800,1000,2000,5000,8000,10000,20000,50000,80000,100000],
    "labelExpr":"abs(log(datum.value)/LN10 - round(log(datum.value)/LN10)) < 0.001 ? (datum.value >= 1 ? format(datum.value, 'd') : format(datum.value, '.2~f')) : ''",
    "labelFont":"DejaVu Sans Mono","labelFontSize":8,"labelPadding":16,"tickSize":-10,
    "grid":true,"gridColor":"#a0a0a0","gridDash":[2,4],"gridWidth":1,
    "gridOpacity":{"condition":{"test":"abs(log(datum.value)/LN10 - round(log(datum.value)/LN10)) < 0.001","value":1},"value":0}}},
  "color":{"field":"s","type":"nominal",
   "scale":{"domain":["n","p","c"],"range":["#ff0000","#00c000","#0080ff"]},
   "legend":{"orient":"none","legendX":3006,"legendY":23.5,"title":null,"direction":"vertical","padding":0,
    "symbolType":"M-3.55,-1H3.55V1H-3.55Z","symbolSize":121,"symbolStrokeWidth":0,"symbolOpacity":1,"symbolOffset":89,
    "labelAlign":"right","labelOffset":-30,"labelFont":"DejaVu Sans Mono","labelFontSize":8,"labelColor":"black","rowPadding":11,
    "labelExpr":"datum.label == 'n' ? 'Not Spam' : datum.label == 'p' ? 'Spam' : 'Score (0..1)'"}}
 }},
{"mark":{"type":"text","text":""},
 "encoding":{
  "x":{"field":"label","type":"nominal","sort":null,
   "axis":{"orient":"top","title":null,"labels":false,"grid":false,"ticks":true,"tickSize":-15,"bandPosition":0.3333,"domain":true}},
  "y":{"field":"v","type":"quantitative",
   "axis":{"orient":"right","title":null,"labels":false,"grid":false,"tickSize":-10,
    "values":[0.01,0.02,0.05,0.08,0.1,0.2,0.5,0.8,1,2,5,8,10,20,50,80,100,200,500,800,1000,2000,5000,8000,10000,20000,50000,80000,100000]}}
 }}
],
"resolve":{"axis":{"x":"independent","y":"independent"}}
}
